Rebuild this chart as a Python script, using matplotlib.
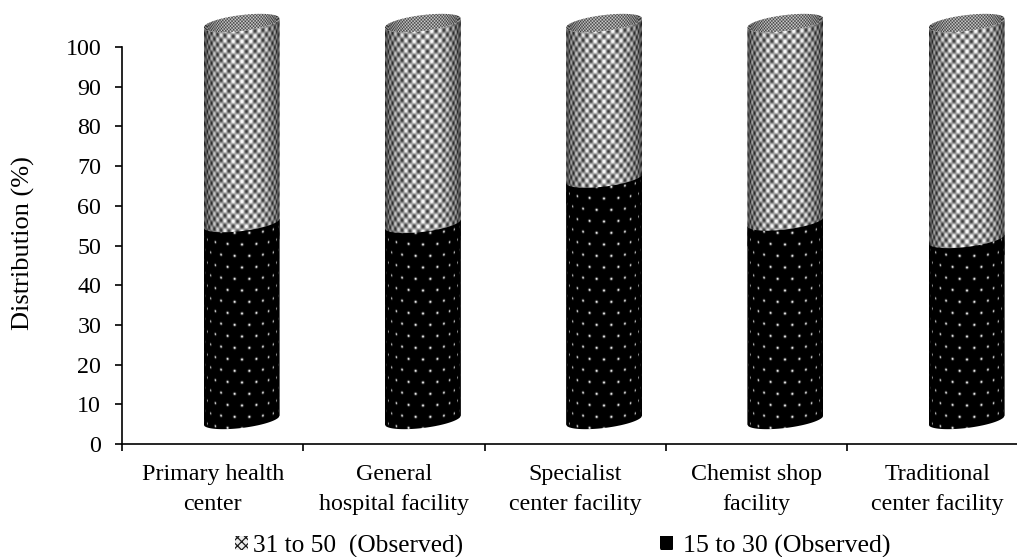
#!/usr/bin/env python3
# Stacked cylinder chart of distribution by facility type
import numpy as np
from matplotlib import pyplot as plt
from matplotlib.patches import Patch, Polygon

plt.rcParams['font.family'] = ['Liberation Serif', 'DejaVu Serif']
plt.rcParams['hatch.linewidth'] = 0.9

# Data
facilities = ['Primary health\ncenter', 'General\nhospital facility',
              'Specialist\ncenter facility', 'Chemist shop\nfacility',
              'Traditional\ncenter facility']
age_15_30 = [49.6, 49.4, 60.8, 50.0, 45.6]
age_31_50 = [50.4, 50.6, 39.2, 50.0, 54.4]
yticks = list(range(0, 101, 10))

WIDTH, HEIGHT = 1017, 557
PX_X = 181.25  # pixels per category
PX_Y = 3.97    # pixels per percent
YMAX = (444 - 4) / PX_Y

# fake 3D look, all in data units
SHIFT_X = 29 / PX_X
SHIFT_Y = 24 / PX_Y
HALF_W = 38 / PX_X
TILT = 4.5 / PX_Y
SAG = 8 / PX_Y


def arc(center, value, front=True):
    # tilted half ellipse, left to right
    t = np.linspace(-1, 1, 80)
    bulge = SAG * np.sqrt(1 - t ** 2)
    sign = -1 if front else 1
    return np.column_stack([center + SHIFT_X + HALF_W * t,
                            value + SHIFT_Y + TILT * t + sign * bulge])


def body(center, low, high):
    return np.vstack([arc(center, low), arc(center, high)[::-1]])


def cap(center, value):
    return np.vstack([arc(center, value), arc(center, value, False)[::-1]])


# pixel textures wrapped round the cylinder
nx, ny = 76, int(YMAX * PX_Y)
t = np.clip(np.linspace(-1, 1, nx), -0.999, 0.999)
uu, vv = np.meshgrid(38 * np.arcsin(t), np.arange(ny))
vv = vv + 8 * np.sqrt(1 - t ** 2)[None, :]
shade = 0.98 - 0.55 * (np.abs(t) ** 3)[None, :]

# crossed weave for the upper part
weave = 0.66 + 0.42 * np.cos(2 * np.pi * uu / 9) * np.cos(2 * np.pi * vv / 10)
weave = np.clip(weave, 0, 1) * shade

# small dots on black for the lower part
row = np.round(vv / 11.5)
shift = (row % 2) * 7.5
du = (uu + shift + 7.5) % 15 - 7.5
dv = vv - row * 11.5
dots = np.exp(-(du ** 2 + dv ** 2) / (2 * 0.9 ** 2)) * (0.25 + 0.75 * shade)

# finer grain for the lid
grain = 0.55 + 0.3 * np.cos(2 * np.pi * uu / 3.4) * np.cos(2 * np.pi * vv / 3.4)
grain = grain * (0.35 + 0.65 * shade)

fig = plt.figure(figsize=(WIDTH / 100, HEIGHT / 100), dpi=100)
ax = fig.add_axes([122 / WIDTH, 1 - 444 / HEIGHT, 1 - 122 / WIDTH,
                   (444 - 4) / HEIGHT])


def paint(texture, center, outline, zorder):
    extent = (center + SHIFT_X - HALF_W, center + SHIFT_X + HALF_W, 0, YMAX)
    im = ax.imshow(texture, extent=extent, origin='lower', aspect='auto',
                   cmap='gray', vmin=0, vmax=1, zorder=zorder,
                   interpolation='bilinear')
    im.set_clip_path(Polygon(outline, transform=ax.transData))


for i, (low, high) in enumerate(zip(age_15_30, age_31_50)):
    top = low + high
    paint(weave, i, body(i, low - 5, top), 2)
    paint(dots, i, body(i, 0, low), 3)
    paint(grain, i, cap(i, top), 4)

ax.set_xlim(-0.5, -0.5 + (WIDTH - 122) / PX_X)
ax.set_ylim(0, YMAX)

for side in ['top', 'right']:
    ax.spines[side].set_visible(False)
for side in ['left', 'bottom']:
    ax.spines[side].set_linewidth(1.2)
ax.spines['left'].set_bounds(0, 100)

ax.set_yticks(yticks)
ax.tick_params(axis='y', labelsize=17.3, length=5, width=1.2, pad=10)
ax.set_xticks(np.arange(len(facilities)) - 0.5)
ax.set_xticklabels([])
ax.tick_params(axis='x', which='major', length=5, width=1.2)
ax.set_xticks(np.arange(len(facilities)), minor=True)
ax.set_xticklabels(facilities, minor=True, fontsize=17.3, linespacing=1.56)
ax.tick_params(axis='x', which='minor', length=0, pad=14.5)
fig.text(23 / WIDTH, 1 - 243.5 / HEIGHT, 'Distribution (%)', fontsize=19,
         rotation=90, ha='center', va='center')

# two separate legends, the gaps differ in the original
fig.legend(handles=[Patch(facecolor='#ededed', edgecolor='#1a1a1a',
                          hatch='xxxx', linewidth=0,
                          label='31 to 50  (Observed)')],
           loc='lower left', bbox_to_anchor=(235 / WIDTH, -0.001),
           frameon=False, fontsize=18.3, handlelength=0.52,
           handleheight=0.5, handletextpad=0.2, borderpad=0,
           borderaxespad=0)
fig.legend(handles=[Patch(facecolor='black', edgecolor='white', hatch='.',
                          linewidth=0, label='15 to 30 (Observed)')],
           loc='lower left', bbox_to_anchor=(660 / WIDTH, -0.001),
           frameon=False, fontsize=18.6, handlelength=0.52, handleheight=0.5,
           handletextpad=0.36, borderpad=0, borderaxespad=0)

fig.savefig('out.png', dpi=100)
